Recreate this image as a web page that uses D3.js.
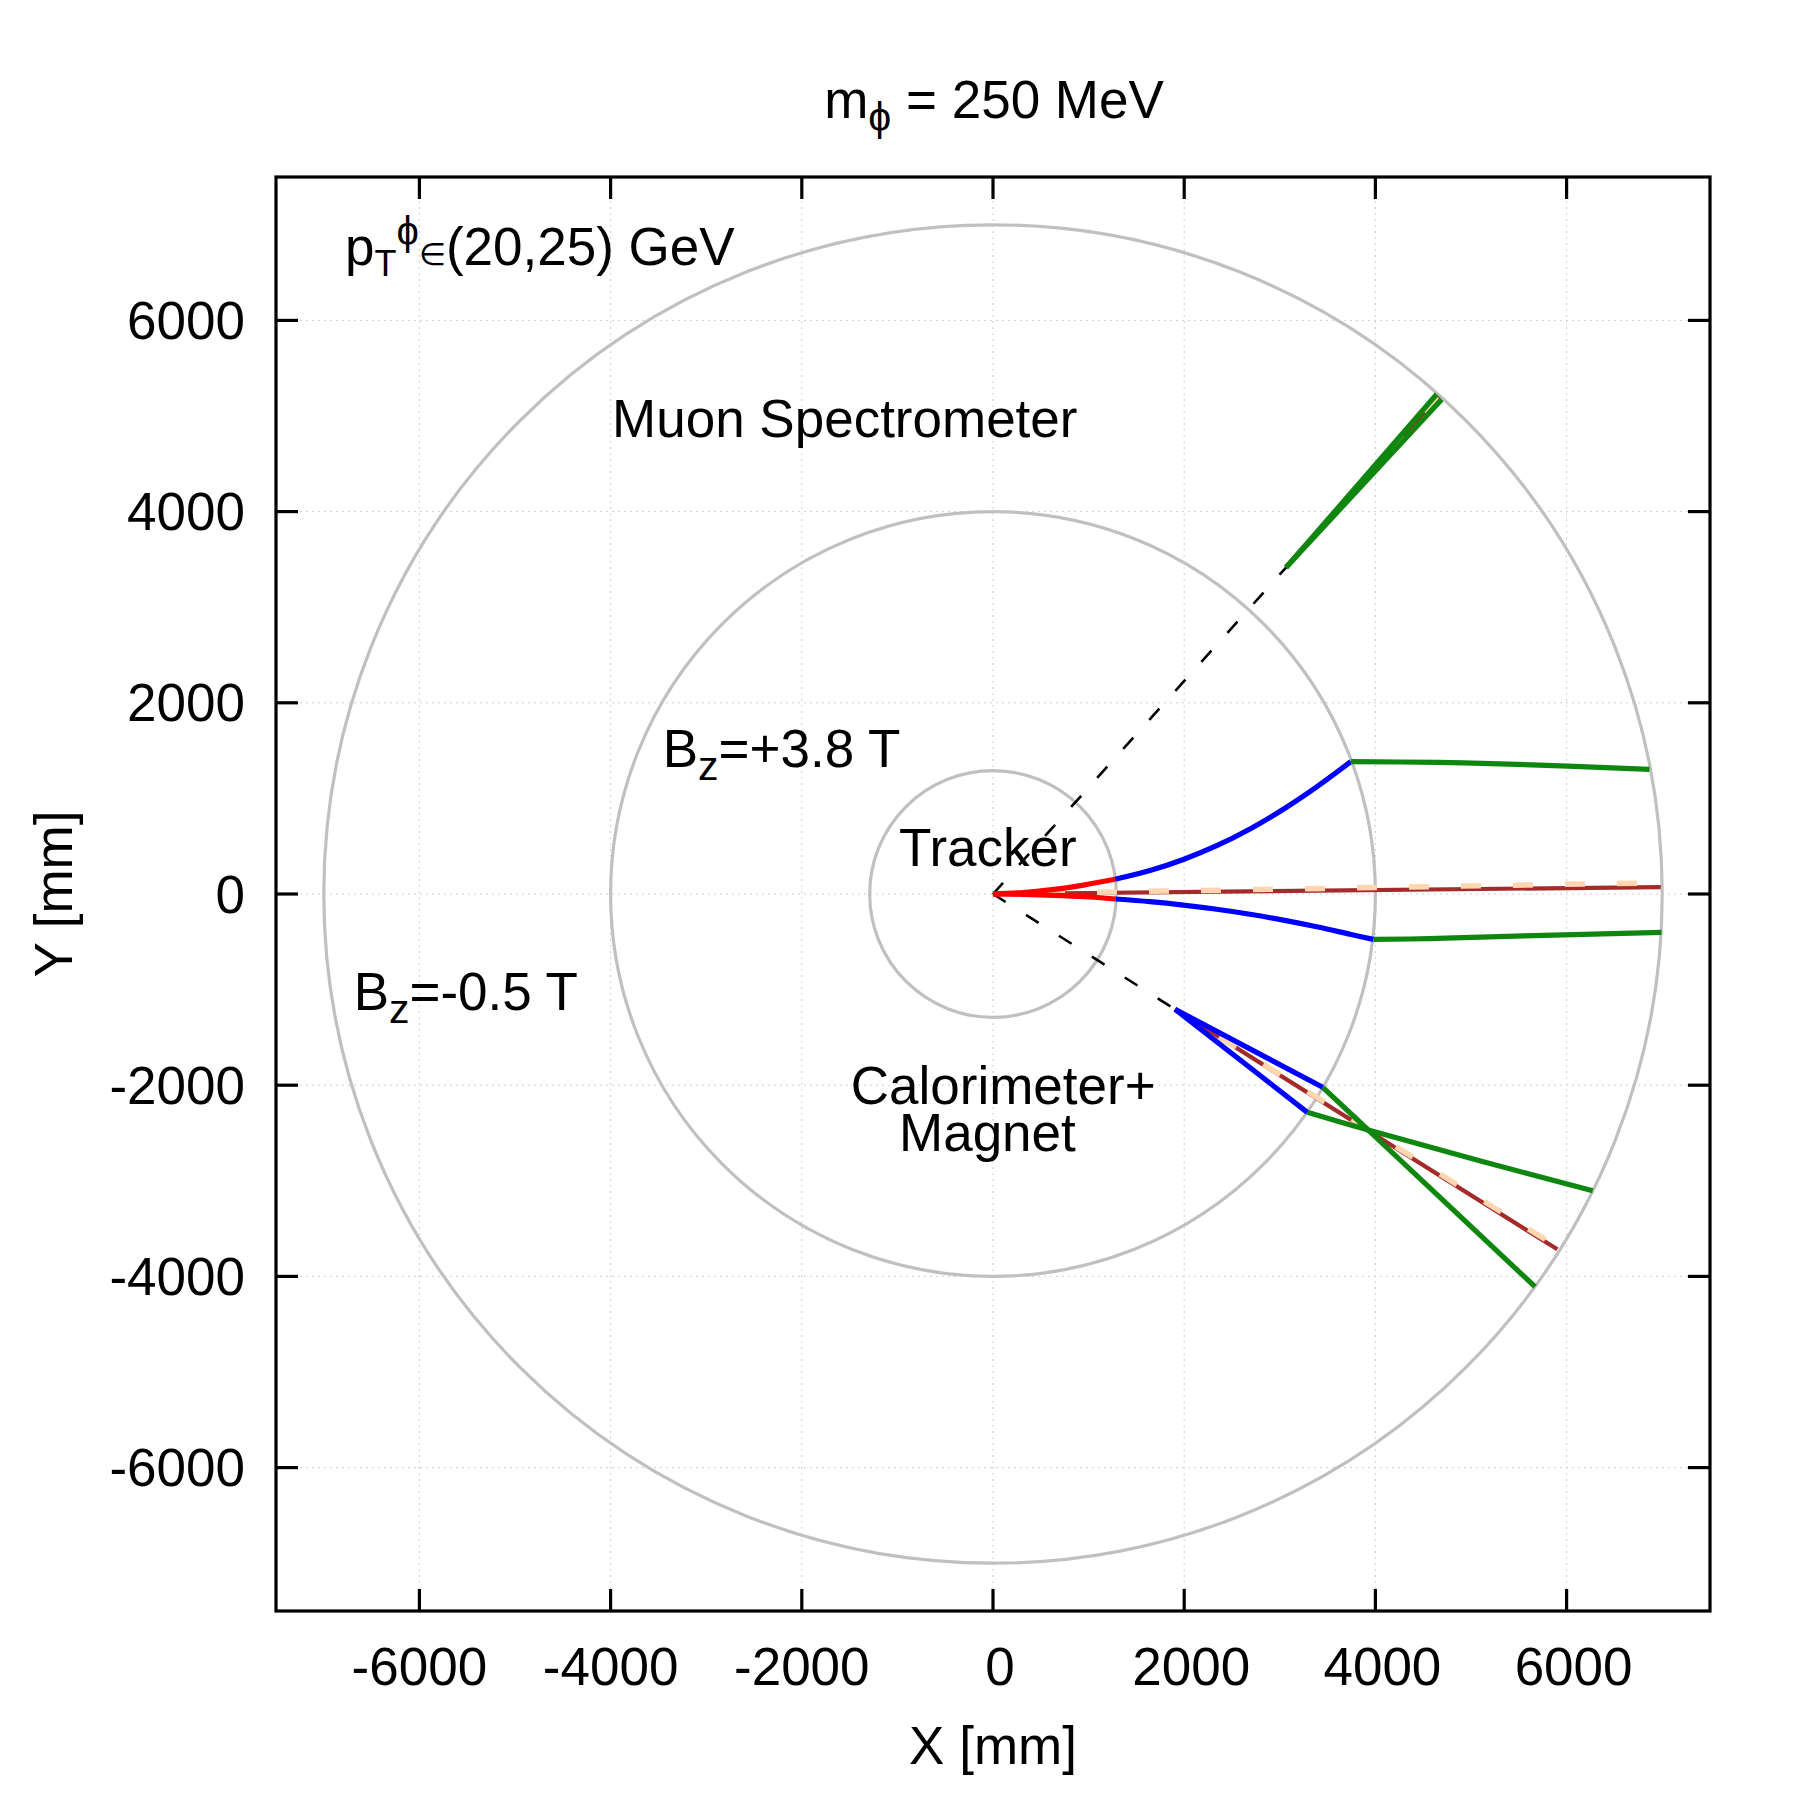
<!DOCTYPE html>
<html><head><meta charset="utf-8">
<script src="https://cdn.jsdelivr.net/npm/d3@7"></script>
<style>body{margin:0;background:#fff}text{font-family:"Liberation Sans",Arial,Helvetica,sans-serif;fill:#000}</style>
</head><body>
<svg id="c" width="1800" height="1800"></svg>
<script>
// ---------- data (mm) ----------
const xDomain = [-7500, 7500];
const yDomain = [-7500, 7500];
const tickValues = [-6000, -4000, -2000, 0, 2000, 4000, 6000];
const detectorRadii = [1290, 4000, 7000];

// neutral phi flight paths (dashed): origin -> displaced decay vertex
const phiPathUpper = [[0, 0], [3065, 3415]];
const phiPathLower = [[0, 0], [1904, -1206]];

// red: tracker segments
const redUpper = [[0, 0], [320, 16], [640, 48], [960, 96], [1277, 154]];
const redLower = [[0, 0], [320, -4], [640, -14], [960, -29], [1285, -52]];

// blue: calorimeter + magnet segments
const blueUpper = [[1277, 154], [1642, 245], [1991, 361], [2340, 505], [2688, 680], [3037, 887], [3386, 1121], [3742, 1384]];
const blueLower = [[1285, -52], [1642, -80], [1991, -116], [2340, -160], [2688, -212], [3037, -273], [3386, -343], [3734, -421], [3978, -475]];
const blueVtxA = [[1904, -1206], [3449, -2022]];
const blueVtxB = [[1904, -1206], [3288, -2284]];

// green: muon spectrometer segments
const greenUpper = [[3742, 1384], [4655, 1377], [5303, 1362], [6867, 1304]];
const greenLower = [[3978, -475], [4555, -467], [5554, -439], [6993, -401]];
const greenVtxUpA = [[3065, 3415], [4641, 5227]];
const greenVtxUpB = [[3065, 3415], [4693, 5174]];
const greenVtxLowA = [[3449, -2022], [3926, -2469], [5669, -4108]];
const greenVtxLowB = [[3288, -2284], [3926, -2469], [5129, -2800], [6273, -3104]];

// brown: straight phi direction; peach dashed: reconstructed direction
const brownLines = [[[0, 0], [6985, 72]], [[3065, 3415], [4668, 5201]], [[1904, -1206], [5903, -3717]]];
const peachLines = [[[0, 0], [6990, 118]], [[3065, 3415], [4655, 5205]], [[1904, -1206], [5900, -3690]]];

// text labels (data coords, left aligned at baseline)
const titleParts = [{t: "m"}, {t: "ϕ", sub: true}, {t: " = 250 MeV"}];
const labels = [
  {x: -6778, y: 6579, parts: [{t: "p"}, {t: "T", sub: true, small: true}, {t: "ϕ", sup: true}, {t: "∈", eps: true}, {t: "(20,25) GeV"}]},
  {x: -3985, y: 4780, parts: [{t: "Muon Spectrometer"}]},
  {x: -3455, y: 1332, parts: [{t: "B"}, {t: "z", sub: true}, {t: "=+3.8 T"}]},
  {x: -983, y: 293, parts: [{t: "Tracker"}]},
  {x: -6688, y: -1213, parts: [{t: "B"}, {t: "z", sub: true}, {t: "=-0.5 T"}]},
  {x: -1488, y: -2201, parts: [{t: "Calorimeter+"}]},
  {x: -983, y: -2693, parts: [{t: "Magnet"}]}
];
const xLabel = "X [mm]";
const yLabel = "Y [mm]";

// ---------- drawing ----------
const FS = 53;
const L = 276, R = 1710, T = 177, B = 1611;
const svg = d3.select("#c");
const sx = d3.scaleLinear().domain(xDomain).range([L, R]);
const sy = d3.scaleLinear().domain(yDomain).range([B, T]);

svg.append("defs").append("clipPath").attr("id", "clip")
  .append("rect").attr("x", L).attr("y", T).attr("width", R - L).attr("height", B - T);

// grid
const grid = svg.append("g").attr("stroke", "#cfcfcf").attr("stroke-width", 1).attr("stroke-dasharray", "2,4");
tickValues.forEach(v => {
  grid.append("line").attr("x1", sx(v)).attr("x2", sx(v)).attr("y1", T).attr("y2", B);
  grid.append("line").attr("y1", sy(v)).attr("y2", sy(v)).attr("x1", L).attr("x2", R);
});

const plot = svg.append("g").attr("clip-path", "url(#clip)");

// detector circles
plot.selectAll("circle.det").data(detectorRadii).join("circle")
  .attr("cx", sx(0)).attr("cy", sy(0)).attr("r", d => sx(d) - sx(0))
  .attr("fill", "none").attr("stroke", "#c0c0c0").attr("stroke-width", 3.2);

const line = d3.line().x(d => sx(d[0])).y(d => sy(d[1])).curve(d3.curveCatmullRom.alpha(0.5));
function draw(pts, color, w, dash) {
  const p = plot.append("path").attr("d", line(pts)).attr("fill", "none")
    .attr("stroke", color).attr("stroke-width", w).attr("stroke-linecap", "butt").attr("stroke-linejoin", "round");
  if (dash) p.attr("stroke-dasharray", dash);
  return p;
}

brownLines.forEach(l => draw(l, "#a52a2a", 4.2));
peachLines.forEach(l => draw(l, "#ffd6b0", 5.5, "20,32"));
draw(phiPathUpper, "#000", 2.6, "15,24");
draw(phiPathLower, "#000", 2.6, "15,24");
[blueUpper, blueLower, blueVtxA, blueVtxB].forEach(l => draw(l, "#0000ff", 5.2));
[greenUpper, greenLower, greenVtxUpA, greenVtxUpB, greenVtxLowA, greenVtxLowB].forEach(l => draw(l, "#0f870f", 5.2));
[redUpper, redLower].forEach(l => draw(l, "#ff0000", 5.2));

// frame + ticks
svg.append("rect").attr("x", L).attr("y", T).attr("width", R - L).attr("height", B - T)
  .attr("fill", "none").attr("stroke", "#000").attr("stroke-width", 3.2);
const tk = svg.append("g").attr("stroke", "#000").attr("stroke-width", 3.2);
const TL = 22;
tickValues.forEach(v => {
  tk.append("line").attr("x1", sx(v)).attr("x2", sx(v)).attr("y1", B).attr("y2", B - TL);
  tk.append("line").attr("x1", sx(v)).attr("x2", sx(v)).attr("y1", T).attr("y2", T + TL);
  tk.append("line").attr("y1", sy(v)).attr("y2", sy(v)).attr("x1", L).attr("x2", L + TL);
  tk.append("line").attr("y1", sy(v)).attr("y2", sy(v)).attr("x1", R).attr("x2", R - TL);
});

// tick labels
const fmt = d3.format("d");
svg.append("g").selectAll("text").data(tickValues).join("text")
  .attr("x", d => sx(d) + (d >= 0 ? 7 : 0)).attr("y", 1685)
  .attr("text-anchor", "middle").attr("font-size", FS).text(d => fmt(d).replace("−", "-"));
svg.append("g").selectAll("text").data(tickValues).join("text")
  .attr("x", 245).attr("y", d => sy(d) + 18.5)
  .attr("text-anchor", "end").attr("font-size", FS).text(d => fmt(d).replace("−", "-"));

// rich text helper
function rich(parent, x, y, parts, anchor) {
  const t = parent.append("text").attr("x", x).attr("y", y)
    .attr("text-anchor", anchor || "start").style("white-space", "pre").attr("font-size", FS);
  let cur = 0;
  parts.forEach(p => {
    let shift = 0, size = FS;
    if (p.sub) { shift = p.small ? 11 : 13; size = p.small ? 36 : 41; }
    if (p.sup) { shift = -20; size = 40; }
    if (p.eps) { size = 31; }
    t.append("tspan").attr("font-size", size).attr("dy", shift - cur).text(p.t);
    cur = shift;
  });
  return t;
}

rich(svg, 994, 118, titleParts, "middle");
labels.forEach(l => rich(svg, sx(l.x), sy(l.y), l.parts, "start"));

svg.append("text").attr("x", sx(0)).attr("y", 1764).attr("text-anchor", "middle").attr("font-size", FS).text(xLabel);
svg.append("text").attr("transform", `translate(72,${sy(0)}) rotate(-90)`).attr("text-anchor", "middle").attr("font-size", FS).text(yLabel);
</script>
</body></html>
